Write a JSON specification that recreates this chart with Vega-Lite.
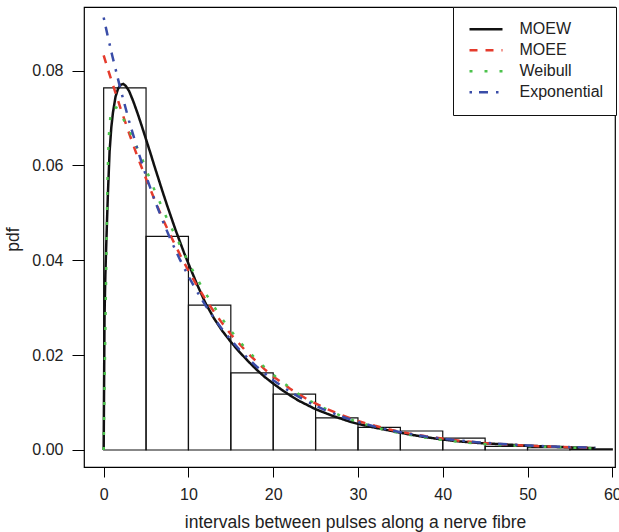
{
  "$schema": "https://vega.github.io/schema/vega-lite/v6.json",
  "autosize": "none",
  "width": 531,
  "height": 460,
  "padding": {"left": 84, "top": 7, "right": 4, "bottom": 65},
  "background": "white",
  "config": {
    "font": "Liberation Sans",
    "view": {"stroke": "black", "strokeWidth": 1.2},
    "axis": {"grid": false, "domain": false, "tickColor": "black", "labelColor": "#222", "titleColor": "#222", "labelFontSize": 16, "titleFontSize": 17.5, "titleFontWeight": "normal", "labelFont": "Liberation Sans", "titleFont": "Liberation Sans"}
  },
  "datasets": {
    "bars": [
      {"x0": 0, "x1": 5, "density": 0.07635},
      {"x0": 5, "x1": 10, "density": 0.04506},
      {"x0": 10, "x1": 15, "density": 0.03054},
      {"x0": 15, "x1": 20, "density": 0.01627},
      {"x0": 20, "x1": 25, "density": 0.01176},
      {"x0": 25, "x1": 30, "density": 0.00676},
      {"x0": 30, "x1": 35, "density": 0.00476},
      {"x0": 35, "x1": 40, "density": 0.004},
      {"x0": 40, "x1": 45, "density": 0.0025},
      {"x0": 45, "x1": 50, "density": 0.00075},
      {"x0": 50, "x1": 55, "density": 0.0005},
      {"x0": 55, "x1": 60, "density": 0.00025}
    ],
    "curves": [
      {"series": "MOEW", "x": 0, "y": 0},
      {"series": "MOEW", "x": 0.1, "y": 0.028},
      {"series": "MOEW", "x": 0.2, "y": 0.037},
      {"series": "MOEW", "x": 0.3, "y": 0.043},
      {"series": "MOEW", "x": 0.4, "y": 0.0486},
      {"series": "MOEW", "x": 0.5, "y": 0.054},
      {"series": "MOEW", "x": 0.7, "y": 0.063},
      {"series": "MOEW", "x": 0.9, "y": 0.068},
      {"series": "MOEW", "x": 1.1, "y": 0.0712},
      {"series": "MOEW", "x": 1.4, "y": 0.0745},
      {"series": "MOEW", "x": 1.7, "y": 0.0762},
      {"series": "MOEW", "x": 2.0, "y": 0.077},
      {"series": "MOEW", "x": 2.3, "y": 0.0772},
      {"series": "MOEW", "x": 2.6, "y": 0.0768},
      {"series": "MOEW", "x": 3.0, "y": 0.0757},
      {"series": "MOEW", "x": 3.5, "y": 0.0735},
      {"series": "MOEW", "x": 4.0, "y": 0.071},
      {"series": "MOEW", "x": 4.5, "y": 0.0683},
      {"series": "MOEW", "x": 5.0, "y": 0.0655},
      {"series": "MOEW", "x": 5.5, "y": 0.0627},
      {"series": "MOEW", "x": 6.0, "y": 0.0598},
      {"series": "MOEW", "x": 6.5, "y": 0.057},
      {"series": "MOEW", "x": 7.0, "y": 0.0542},
      {"series": "MOEW", "x": 7.5, "y": 0.0515},
      {"series": "MOEW", "x": 8.0, "y": 0.0489},
      {"series": "MOEW", "x": 8.5, "y": 0.0463},
      {"series": "MOEW", "x": 9.0, "y": 0.0439},
      {"series": "MOEW", "x": 9.5, "y": 0.0415},
      {"series": "MOEW", "x": 10, "y": 0.0393},
      {"series": "MOEW", "x": 11, "y": 0.035},
      {"series": "MOEW", "x": 12, "y": 0.031},
      {"series": "MOEW", "x": 13, "y": 0.0278},
      {"series": "MOEW", "x": 14, "y": 0.0251},
      {"series": "MOEW", "x": 15, "y": 0.0228},
      {"series": "MOEW", "x": 16, "y": 0.0207},
      {"series": "MOEW", "x": 17, "y": 0.0188},
      {"series": "MOEW", "x": 18, "y": 0.017},
      {"series": "MOEW", "x": 19, "y": 0.0154},
      {"series": "MOEW", "x": 20, "y": 0.014},
      {"series": "MOEW", "x": 21, "y": 0.0127},
      {"series": "MOEW", "x": 22, "y": 0.0115},
      {"series": "MOEW", "x": 23, "y": 0.0104},
      {"series": "MOEW", "x": 24, "y": 0.0095},
      {"series": "MOEW", "x": 25, "y": 0.0086},
      {"series": "MOEW", "x": 26, "y": 0.0079},
      {"series": "MOEW", "x": 27, "y": 0.0072},
      {"series": "MOEW", "x": 28, "y": 0.0066},
      {"series": "MOEW", "x": 29, "y": 0.006},
      {"series": "MOEW", "x": 30, "y": 0.0055},
      {"series": "MOEW", "x": 32, "y": 0.0047},
      {"series": "MOEW", "x": 34, "y": 0.004},
      {"series": "MOEW", "x": 36, "y": 0.0033},
      {"series": "MOEW", "x": 38, "y": 0.0027},
      {"series": "MOEW", "x": 40, "y": 0.0022},
      {"series": "MOEW", "x": 42, "y": 0.0018},
      {"series": "MOEW", "x": 44, "y": 0.0015},
      {"series": "MOEW", "x": 46, "y": 0.0013},
      {"series": "MOEW", "x": 48, "y": 0.0011},
      {"series": "MOEW", "x": 50, "y": 0.0009},
      {"series": "MOEW", "x": 52, "y": 0.00075},
      {"series": "MOEW", "x": 54, "y": 0.00062},
      {"series": "MOEW", "x": 56, "y": 0.0005},
      {"series": "MOEW", "x": 58, "y": 0.0004},
      {"series": "MOEE", "x": 0, "y": 0.0832},
      {"series": "MOEE", "x": 0.5, "y": 0.0803},
      {"series": "MOEE", "x": 1, "y": 0.0775},
      {"series": "MOEE", "x": 2, "y": 0.072},
      {"series": "MOEE", "x": 3, "y": 0.0668},
      {"series": "MOEE", "x": 4, "y": 0.0618},
      {"series": "MOEE", "x": 5, "y": 0.0572},
      {"series": "MOEE", "x": 6, "y": 0.0528},
      {"series": "MOEE", "x": 7, "y": 0.0486},
      {"series": "MOEE", "x": 8, "y": 0.0448},
      {"series": "MOEE", "x": 9, "y": 0.0412},
      {"series": "MOEE", "x": 10, "y": 0.0378},
      {"series": "MOEE", "x": 11, "y": 0.0347},
      {"series": "MOEE", "x": 12, "y": 0.0318},
      {"series": "MOEE", "x": 13, "y": 0.0292},
      {"series": "MOEE", "x": 14, "y": 0.0267},
      {"series": "MOEE", "x": 15, "y": 0.0244},
      {"series": "MOEE", "x": 16, "y": 0.0224},
      {"series": "MOEE", "x": 17, "y": 0.0204},
      {"series": "MOEE", "x": 18, "y": 0.0187},
      {"series": "MOEE", "x": 19, "y": 0.017},
      {"series": "MOEE", "x": 20, "y": 0.0155},
      {"series": "MOEE", "x": 22, "y": 0.0129},
      {"series": "MOEE", "x": 24, "y": 0.0107},
      {"series": "MOEE", "x": 26, "y": 0.0089},
      {"series": "MOEE", "x": 28, "y": 0.0074},
      {"series": "MOEE", "x": 30, "y": 0.0061},
      {"series": "MOEE", "x": 32, "y": 0.0051},
      {"series": "MOEE", "x": 34, "y": 0.0042},
      {"series": "MOEE", "x": 36, "y": 0.0035},
      {"series": "MOEE", "x": 38, "y": 0.0029},
      {"series": "MOEE", "x": 40, "y": 0.0024},
      {"series": "MOEE", "x": 42, "y": 0.00195},
      {"series": "MOEE", "x": 44, "y": 0.0016},
      {"series": "MOEE", "x": 46, "y": 0.00133},
      {"series": "MOEE", "x": 48, "y": 0.0011},
      {"series": "MOEE", "x": 50, "y": 0.00091},
      {"series": "MOEE", "x": 52, "y": 0.00075},
      {"series": "MOEE", "x": 54, "y": 0.00062},
      {"series": "MOEE", "x": 56, "y": 0.00051},
      {"series": "MOEE", "x": 58, "y": 0.00042},
      {"series": "Weibull", "x": 0, "y": 0},
      {"series": "Weibull", "x": 0.25, "y": 0.032},
      {"series": "Weibull", "x": 0.45, "y": 0.057},
      {"series": "Weibull", "x": 0.6, "y": 0.066},
      {"series": "Weibull", "x": 0.8, "y": 0.0705},
      {"series": "Weibull", "x": 1.0, "y": 0.0722},
      {"series": "Weibull", "x": 1.5, "y": 0.0722},
      {"series": "Weibull", "x": 2.0, "y": 0.0708},
      {"series": "Weibull", "x": 2.5, "y": 0.0692},
      {"series": "Weibull", "x": 3.0, "y": 0.0675},
      {"series": "Weibull", "x": 3.5, "y": 0.0655},
      {"series": "Weibull", "x": 4.0, "y": 0.0635},
      {"series": "Weibull", "x": 4.5, "y": 0.0616},
      {"series": "Weibull", "x": 5.0, "y": 0.0592},
      {"series": "Weibull", "x": 5.5, "y": 0.057},
      {"series": "Weibull", "x": 6.0, "y": 0.0548},
      {"series": "Weibull", "x": 6.5, "y": 0.0528},
      {"series": "Weibull", "x": 7.0, "y": 0.0507},
      {"series": "Weibull", "x": 7.5, "y": 0.0487},
      {"series": "Weibull", "x": 8.0, "y": 0.0468},
      {"series": "Weibull", "x": 8.5, "y": 0.0451},
      {"series": "Weibull", "x": 9.0, "y": 0.0432},
      {"series": "Weibull", "x": 9.5, "y": 0.0414},
      {"series": "Weibull", "x": 10, "y": 0.0396},
      {"series": "Weibull", "x": 11, "y": 0.0362},
      {"series": "Weibull", "x": 12, "y": 0.0331},
      {"series": "Weibull", "x": 13, "y": 0.0303},
      {"series": "Weibull", "x": 14, "y": 0.0276},
      {"series": "Weibull", "x": 15, "y": 0.0252},
      {"series": "Weibull", "x": 16, "y": 0.0229},
      {"series": "Weibull", "x": 17, "y": 0.021},
      {"series": "Weibull", "x": 18, "y": 0.0191},
      {"series": "Weibull", "x": 19, "y": 0.0174},
      {"series": "Weibull", "x": 20, "y": 0.0159},
      {"series": "Weibull", "x": 21, "y": 0.0144},
      {"series": "Weibull", "x": 22, "y": 0.0131},
      {"series": "Weibull", "x": 23, "y": 0.0118},
      {"series": "Weibull", "x": 24, "y": 0.0107},
      {"series": "Weibull", "x": 25, "y": 0.0097},
      {"series": "Weibull", "x": 26, "y": 0.0088},
      {"series": "Weibull", "x": 27, "y": 0.008},
      {"series": "Weibull", "x": 28, "y": 0.0072},
      {"series": "Weibull", "x": 29, "y": 0.0065},
      {"series": "Weibull", "x": 30, "y": 0.0059},
      {"series": "Weibull", "x": 32, "y": 0.0048},
      {"series": "Weibull", "x": 34, "y": 0.0039},
      {"series": "Weibull", "x": 36, "y": 0.0032},
      {"series": "Weibull", "x": 38, "y": 0.0026},
      {"series": "Weibull", "x": 40, "y": 0.0021},
      {"series": "Weibull", "x": 42, "y": 0.0017},
      {"series": "Weibull", "x": 44, "y": 0.0014},
      {"series": "Weibull", "x": 46, "y": 0.0011},
      {"series": "Weibull", "x": 48, "y": 0.00095},
      {"series": "Weibull", "x": 50, "y": 0.0008},
      {"series": "Weibull", "x": 52, "y": 0.00068},
      {"series": "Weibull", "x": 54, "y": 0.00055},
      {"series": "Weibull", "x": 56, "y": 0.00045},
      {"series": "Weibull", "x": 58, "y": 0.00035},
      {"series": "Exponential", "x": 0, "y": 0.0912},
      {"series": "Exponential", "x": 0.5, "y": 0.0871},
      {"series": "Exponential", "x": 1, "y": 0.08325},
      {"series": "Exponential", "x": 2, "y": 0.07599},
      {"series": "Exponential", "x": 3, "y": 0.06937},
      {"series": "Exponential", "x": 4, "y": 0.06332},
      {"series": "Exponential", "x": 5, "y": 0.0578},
      {"series": "Exponential", "x": 6, "y": 0.05276},
      {"series": "Exponential", "x": 7, "y": 0.04816},
      {"series": "Exponential", "x": 8, "y": 0.04396},
      {"series": "Exponential", "x": 9, "y": 0.04013},
      {"series": "Exponential", "x": 10, "y": 0.03663},
      {"series": "Exponential", "x": 11, "y": 0.03344},
      {"series": "Exponential", "x": 12, "y": 0.03052},
      {"series": "Exponential", "x": 13, "y": 0.02786},
      {"series": "Exponential", "x": 14, "y": 0.02543},
      {"series": "Exponential", "x": 15, "y": 0.02322},
      {"series": "Exponential", "x": 16, "y": 0.02119},
      {"series": "Exponential", "x": 17, "y": 0.01935},
      {"series": "Exponential", "x": 18, "y": 0.01766},
      {"series": "Exponential", "x": 19, "y": 0.01612},
      {"series": "Exponential", "x": 20, "y": 0.01471},
      {"series": "Exponential", "x": 22, "y": 0.01226},
      {"series": "Exponential", "x": 24, "y": 0.01021},
      {"series": "Exponential", "x": 26, "y": 0.00851},
      {"series": "Exponential", "x": 28, "y": 0.00709},
      {"series": "Exponential", "x": 30, "y": 0.00591},
      {"series": "Exponential", "x": 32, "y": 0.00492},
      {"series": "Exponential", "x": 34, "y": 0.0041},
      {"series": "Exponential", "x": 36, "y": 0.00342},
      {"series": "Exponential", "x": 38, "y": 0.00285},
      {"series": "Exponential", "x": 40, "y": 0.00237},
      {"series": "Exponential", "x": 42, "y": 0.00198},
      {"series": "Exponential", "x": 44, "y": 0.00165},
      {"series": "Exponential", "x": 46, "y": 0.00137},
      {"series": "Exponential", "x": 48, "y": 0.00114},
      {"series": "Exponential", "x": 50, "y": 0.00095},
      {"series": "Exponential", "x": 52, "y": 0.00079},
      {"series": "Exponential", "x": 54, "y": 0.00066},
      {"series": "Exponential", "x": 56, "y": 0.00055},
      {"series": "Exponential", "x": 58, "y": 0.00046}
    ]
  },
  "layer": [
    {
      "data": {"name": "bars"},
      "mark": {"type": "rect", "fill": "white", "fillOpacity": 0, "stroke": "#111", "strokeWidth": 1.2},
      "encoding": {
        "x": {"field": "x0", "type": "quantitative", "scale": {"domain": [-2.32, 60.32], "nice": false, "zero": false},
              "axis": {"values": [0, 10, 20, 30, 40, 50, 60], "tickSize": 10, "labelPadding": 9, "title": "intervals between pulses along a nerve fibre", "titleX": 271, "titleY": 60, "titleAnchor": null, "titleAlign": "center", "titleBaseline": "alphabetic"}},
        "x2": {"field": "x1"},
        "y": {"field": "density", "type": "quantitative", "scale": {"domain": [-0.00359, 0.09342], "nice": false, "zero": false},
              "axis": {"values": [0, 0.02, 0.04, 0.06, 0.08], "format": ".2f", "tickSize": 12, "labelPadding": 9, "title": "pdf", "titleX": -66, "titleY": 232, "titleAngle": 270, "titleAlign": "center", "titleBaseline": "alphabetic"}},
        "y2": {"datum": 0}
      }
    },
    {
      "data": {"name": "curves"},
      "mark": {"type": "line", "strokeWidth": 2.5, "clip": true, "interpolate": "linear"},
      "encoding": {
        "x": {"field": "x", "type": "quantitative"},
        "y": {"field": "y", "type": "quantitative"},
        "color": {"field": "series", "type": "nominal", "sort": ["MOEW", "MOEE", "Weibull", "Exponential"],
                  "scale": {"domain": ["MOEW", "MOEE", "Weibull", "Exponential"], "range": ["#111111", "#E53B2C", "#4CC24C", "#3A4DA8"]},
                  "legend": {"title": null, "orient": "none", "legendX": 369, "legendY": 0, "strokeColor": "#111", "fillColor": "white", "padding": 12, "symbolOffset": 3, "symbolType": "stroke", "symbolSize": 1089, "symbolStrokeWidth": 2.5, "labelFontSize": 16, "labelFont": "Liberation Sans", "labelColor": "#222", "labelOffset": 15.5, "clipHeight": 20.7, "rowPadding": 0, "labelLimit": 200,
                             "encode": {"symbols": {"update": {"strokeDash": {"signal": "datum.value === 'MOEE' ? [7, 7] : datum.value === 'Weibull' ? [2, 5.7] : datum.value === 'Exponential' ? [2, 6, 7, 6] : [1, 0]"}}}}}},
        "strokeDash": {"field": "series", "type": "nominal", "sort": ["MOEW", "MOEE", "Weibull", "Exponential"],
                  "scale": {"domain": ["MOEW", "MOEE", "Weibull", "Exponential"], "range": [[1, 0], [8, 8], [3, 12], [2.5, 7, 9, 8]]},
                  "legend": {"title": null, "orient": "none", "legendX": 369, "legendY": 0, "strokeColor": "#111", "fillColor": "white", "padding": 12, "symbolOffset": 3, "symbolType": "stroke", "symbolSize": 1089, "symbolStrokeWidth": 2.5, "labelFontSize": 16, "labelFont": "Liberation Sans", "labelColor": "#222", "labelOffset": 15.5, "clipHeight": 20.7, "rowPadding": 0, "labelLimit": 200,
                             "encode": {"symbols": {"update": {"strokeDash": {"signal": "datum.value === 'MOEE' ? [7, 7] : datum.value === 'Weibull' ? [2, 5.7] : datum.value === 'Exponential' ? [2, 6, 7, 6] : [1, 0]"}}}}}}
      }
    }
  ]
}
